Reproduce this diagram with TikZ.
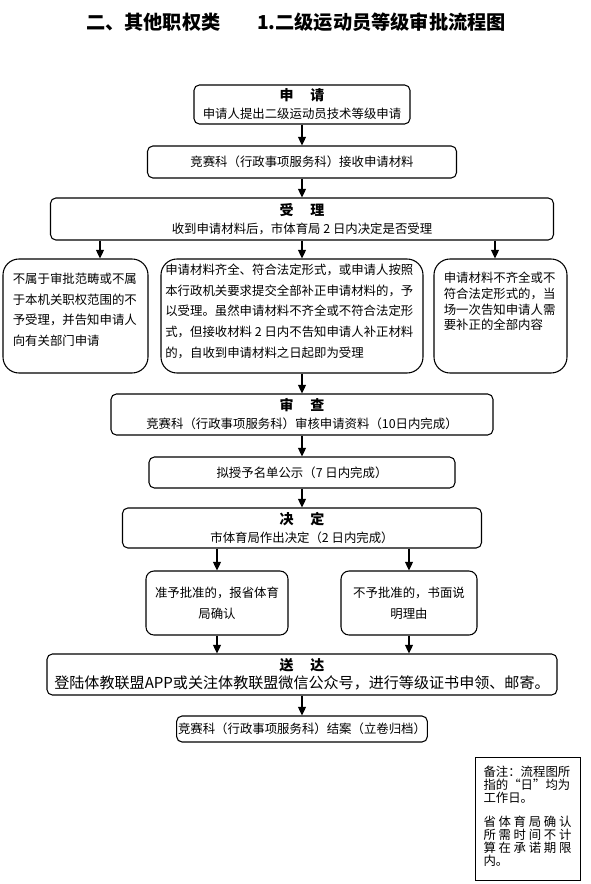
\documentclass[tikz,border=0pt]{standalone}
\usepackage{fontspec}
\setmainfont{Noto Sans CJK SC}
\usetikzlibrary{arrows.meta,calc}
\newcommand{\boxtitle}[1]{{\bfseries\fontsize{10.5}{13.5}\selectfont #1}}

\begin{document}
\begin{tikzpicture}[x=0.75pt,y=-0.75pt,
  box/.style={draw,rounded corners=4pt,line width=0.8pt,align=center,inner sep=1pt,
    font=\fontsize{9.3}{13.5}\selectfont},
  tall/.style={draw,rounded corners=12pt,line width=0.8pt,inner sep=0pt,
    minimum height=85.5pt,font=\fontsize{9.3}{15.5}\selectfont},
  flow/.style={-{Triangle[length=6.5pt,width=6pt]},line width=1pt}]
\useasboundingbox (0,0) rectangle (590,884);

\node[font=\bfseries\fontsize{14.4}{17}\selectfont] (title) at (296,22)
  {二、其他职权类\hspace{1.9em}1.二级运动员等级审批流程图};

\node[box,minimum width=162pt,minimum height=29.25pt] (apply) at (302,104.5)
  {\boxtitle{申\hspace{1.2em}请}\\申请人提出二级运动员技术等级申请};
\node[box,minimum width=231.75pt,minimum height=24pt] (recv) at (302,162)
  {竞赛科（行政事项服务科）接收申请材料};
\node[box,minimum width=377.25pt,minimum height=31.5pt] (accept) at (302,219)
  {\boxtitle{受\hspace{1.2em}理}\\收到申请材料后，市体育局 2 日内决定是否受理};

\node[tall,minimum width=108.75pt] (left) at (75.5,316)
  {\parbox[t][64.5pt][t]{94pt}{不属于审批范畴或不属\\于本机关职权范围的不\\予受理，并告知申请人\\向有关部门申请}};
\node[tall,minimum width=196.5pt] (mid) at (292,316)
  {\parbox[t][78pt][t]{190pt}{申请材料齐全、符合法定形式，或申请人按照\\本行政机关要求提交全部补正申请材料的，予\\以受理。虽然申请材料不齐全或不符合法定形\\式，但接收材料~2~日内不告知申请人补正材料\\的，自收到申请材料之日起即为受理}};
\node[tall,minimum width=99.75pt] (right) at (500.5,316)
  {\parbox[t][66pt][t]{85pt}{\baselineskip=11.8pt 申请材料不齐全或不\\符合法定形式的，当\\场一次告知申请人需\\要补正的全部内容}};

\node[box,minimum width=286.5pt,minimum height=30.75pt] (review) at (302,414.5)
  {\boxtitle{审\hspace{1.2em}查}\\竞赛科（行政事项服务科）审核申请资料（10日内完成）};
\node[box,minimum width=229.5pt,minimum height=23.25pt] (public) at (302,472.5)
  {拟授予名单公示（7 日内完成）};
\node[box,minimum width=269.25pt,minimum height=30pt] (decide) at (302,528)
  {\boxtitle{决\hspace{1.2em}定}\\市体育局作出决定（2 日内完成）};

\node[box,rounded corners=6pt,minimum width=106.5pt,minimum height=48pt,
  font=\fontsize{9.3}{15.75}\selectfont] (approve) at (217,603)
  {准予批准的，报省体育\\局确认};
\node[box,rounded corners=6pt,minimum width=102pt,minimum height=48pt,
  font=\fontsize{9.3}{15.75}\selectfont] (deny) at (409,603)
  {不予批准的，书面说\\明理由};

\node[box,minimum width=382.5pt,minimum height=30.75pt,inner sep=0pt] (deliver) at (302,674.5)
  {\boxtitle{送\hspace{1.2em}达}\\{\fontsize{11.3}{14.25}\selectfont 登陆体教联盟APP或关注体教联盟微信公众号，进行等级证书申领、邮寄。}};
\node[box,minimum width=180pt,minimum height=19.5pt] (close) at (302,729)
  {竞赛科（行政事项服务科）结案（立卷归档）};

\node[draw,line width=0.6pt,minimum width=78.75pt,minimum height=92.25pt,inner sep=0pt,
  font=\fontsize{9.3}{9.6}\selectfont] (note) at (527.5,818.5)
  {\parbox[t][78.75pt][t]{66pt}{\lineskiplimit=-3pt 备注：流程图所\\指的“日”均为\\工作日。\\[9pt]%
   \makebox[66pt][s]{省\hfil 体\hfil 育\hfil 局\hfil 确\hfil 认}\\%
   \makebox[66pt][s]{所\hfil 需\hfil 时\hfil 间\hfil 不\hfil 计}\\%
   \makebox[66pt][s]{算\hfil 在\hfil 承\hfil 诺\hfil 期\hfil 限}\\内。}};

% connectors
\coordinate (lin) at ($(left.north)+(24.5,0)$);
\coordinate (rin) at ($(right.north)+(-5.5,0)$);
\draw[flow] (apply) -- (recv);
\draw[flow] (recv) -- (accept);
\draw[flow] (accept.south -| lin) -- (lin);
\draw[flow] (accept.south) -- (accept.south |- mid.north);
\draw[flow] (accept.south -| rin) -- (rin);
\draw[flow] (mid.south -| review.north) -- (review.north);
\draw[flow] (review) -- (public);
\draw[flow] (public) -- (decide);
\draw[flow] (decide.south -| approve.north) -- (approve.north);
\draw[flow] (decide.south -| deny.north) -- (deny.north);
\draw[flow] (approve.south) -- (approve.south |- deliver.north);
\draw[flow] (deny.south) -- (deny.south |- deliver.north);
\draw[flow] (deliver) -- (close);
\end{tikzpicture}
\end{document}
